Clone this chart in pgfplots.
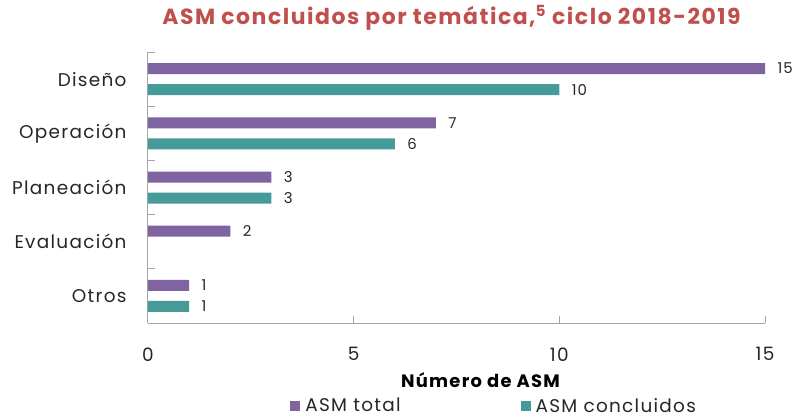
\documentclass[border=0pt]{standalone}
\usepackage{pgfplots}
\pgfplotsset{compat=1.18}
\usepackage{fontspec}
\setmainfont{Poppins}[LetterSpace=7]
\definecolor{ptot}{HTML}{8064A2}
\definecolor{pcon}{HTML}{469B98}
\definecolor{ttl}{HTML}{C0504D}
\definecolor{axg}{HTML}{A6A6A6}
\definecolor{txt}{HTML}{262626}
\begin{document}
\begin{tikzpicture}
\path[use as bounding box] (-148bp,-96bp) rectangle (653bp,323bp);
\begin{axis}[
  at={(0,0)}, anchor=south west,
  scale only axis, width=617bp, height=271bp,
  xmin=0, xmax=15, ymin=-0.5, ymax=4.5,
  xbar, bar width=11bp,
  axis x line*=bottom, axis y line*=left,
  axis line style={axg, line width=1pt, -},
  tick align=inside,
  xtick={0,5,10,15},
  ytick={0,1,2,3,4},
  yticklabels={Otros,Evaluación,Planeación,Operación,Diseño},
  minor ytick={-0.5,0.5,1.5,2.5,3.5,4.5},
  major tick length=7bp, minor tick length=7bp,
  major y tick style={draw=none},
  every tick/.style={axg, line width=1pt},
  minor tick style={axg, line width=1pt},
  /pgf/number format/assume math mode=true,
  ticklabel style={font=\fontsize{18.5}{22}\selectfont, text=txt},
  yticklabel style={xshift=-18bp},
  xticklabel style={yshift=-21bp},
  nodes near coords,
  nodes near coords style={font=\fontsize{15}{17}\selectfont, text=txt, anchor=west, xshift=9bp},
  title={ASM concluidos por temática,\textsuperscript{5} ciclo 2018-2019},
  title style={at={(rel axis cs:0.492,1.105)}, anchor=center, font=\bfseries\fontsize{22}{25}\selectfont, text=ttl},
  xlabel={Número de ASM},
  xlabel style={at={(rel axis cs:0.539,-0.21)}, anchor=center, font=\bfseries\fontsize{18}{21}\selectfont, text=black},
  legend columns=2,
  legend style={at={(rel axis cs:0.561,-0.306)}, anchor=center, draw=none, fill=none,
    font=\fontsize{18.5}{22}\selectfont, text=txt,
    /tikz/every odd column/.append style={column sep=3bp},
    /tikz/every even column/.append style={column sep=118bp}},
  legend image code/.code={\fill[#1] (0bp,-5bp) rectangle (10bp,5bp);},
]
\addplot[fill=ptot, draw=none, bar shift=10.5bp] coordinates {(15,4) (7,3) (3,2) (2,1) (1,0)};
\addplot[fill=pcon, draw=none, bar shift=-10.5bp] coordinates {(10,4) (6,3) (3,2) (1,0)};
\legend{ASM total, ASM concluidos}
\end{axis}
\end{tikzpicture}
\end{document}
